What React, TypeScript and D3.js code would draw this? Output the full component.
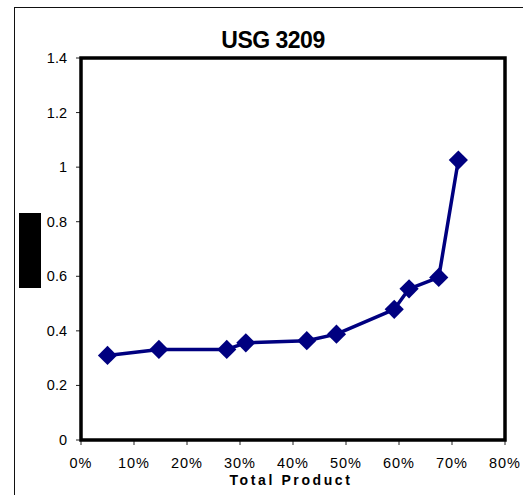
import * as d3 from 'd3';

const xValues = [0.05, 0.147, 0.275, 0.311, 0.426, 0.482, 0.591, 0.619, 0.675, 0.712];
const yValues = [0.31, 0.332, 0.332, 0.356, 0.364, 0.388, 0.479, 0.554, 0.596, 1.026];
const xTicks = [0, 0.1, 0.2, 0.3, 0.4, 0.5, 0.6, 0.7, 0.8];
const yTicks = [0, 0.2, 0.4, 0.6, 0.8, 1, 1.2, 1.4];
const TITLE = 'USG 3209';
const X_TITLE = 'Total Product';

const W = 523;
const H = 495;
const LEFT = 81;
const TOP = 58;
const RIGHT = 505;
const BOTTOM = 440;
const NAVY = '#000080';
const FONT = 'Arial, "Liberation Sans", sans-serif';

export default function App() {
    const x = d3.scaleLinear().domain([0, 0.8]).range([LEFT, RIGHT]);
    const y = d3.scaleLinear().domain([0, 1.4]).range([BOTTOM, TOP]);
    const pts = xValues.map((v, i) => [x(v), y(yValues[i])] as [number, number]);
    const line = d3.line();
    const diamond = d3.symbol().type(d3.symbolDiamond2).size(235)();
    const pct = d3.format('.0%');

    return (
        <svg width={W} height={H} style={{ position: 'fixed', left: 0, top: 0, background: '#fff' }}>
            {/* outer chart frame */}
            <line x1={14.5} y1={7} x2={14.5} y2={H} stroke="#111" strokeWidth={1} />
            <line x1={14.5} y1={7.5} x2={W} y2={7.5} stroke="#111" strokeWidth={1} />

            {/* redacted y-axis title */}
            <rect x={19} y={213} width={22} height={75} fill="#000" />

            <text x={273} y={48} textAnchor="middle" fontFamily={FONT} fontWeight="bold"
                fontSize={23} letterSpacing={-0.5} fill="#000">{TITLE}</text>

            {/* ticks */}
            {yTicks.map(t => (
                <g key={'y' + t}>
                    <line x1={LEFT - 5} x2={LEFT} y1={y(t)} y2={y(t)} stroke="#222" />
                    <text x={67} y={y(t) + 5} textAnchor="end" fontFamily={FONT} fontSize={14.5} fill="#000">
                        {t}
                    </text>
                </g>
            ))}
            {xTicks.map(t => (
                <g key={'x' + t}>
                    <line x1={x(t)} x2={x(t)} y1={BOTTOM} y2={BOTTOM + 5} stroke="#222" />
                    <text x={x(t)} y={468} textAnchor="middle" fontFamily={FONT} fontSize={14.5}
                        letterSpacing={1} fill="#000">{pct(t)}</text>
                </g>
            ))}

            <text x={291} y={485} textAnchor="middle" fontFamily={FONT} fontWeight="bold" fontSize={14}
                letterSpacing={2.6} fill="#000">{X_TITLE}</text>

            {/* plot frame */}
            <rect x={LEFT} y={TOP} width={RIGHT - LEFT} height={BOTTOM - TOP}
                fill="none" stroke="#000" strokeWidth={3.5} />

            <path d={line(pts) ?? ''} fill="none" stroke={NAVY} strokeWidth={3.5} strokeLinejoin="round" />
            {pts.map(([px, py], i) => (
                <path key={i} d={diamond ?? ''} transform={`translate(${px},${py})`} fill={NAVY} />
            ))}
        </svg>
    );
}
